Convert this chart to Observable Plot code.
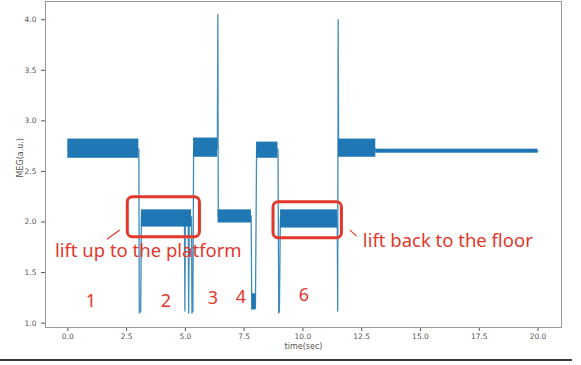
<!DOCTYPE html>
<html>
<head>
<meta charset="utf-8">
<script src="https://cdn.jsdelivr.net/npm/d3@7"></script>
<script src="https://cdn.jsdelivr.net/npm/@observablehq/plot@0.6"></script>
<style>
  html, body { margin: 0; padding: 0; background: #fff; }
  #wrap { position: relative; width: 581px; height: 365px; overflow: hidden; }
  #edge { position: absolute; left: 0; top: 359px; width: 572px; height: 2px; background: #3a3a3a; }
</style>
</head>
<body>
<div id="wrap"><div id="edge"></div></div>
<script>
// ---- signal trace (time in sec, MEG in a.u.) ----
const traceT = [0, 3.02, 3.04, 3.10, 3.13, 4.96, 4.98, 5.00, 5.12, 5.14, 5.17, 5.26, 5.28, 5.32, 5.35,
                6.36, 6.38, 6.40, 7.80, 7.82, 7.92, 7.98, 8.03, 8.94, 8.97, 9.00, 9.04,
                11.46, 11.48, 11.50, 11.52, 13.10, 13.12, 20.0];
const traceV = [2.72, 2.72, 1.10, 1.12, 2.05, 2.05, 1.12, 2.05, 2.05, 1.10, 2.05, 2.05, 1.10, 1.12, 2.72,
                2.72, 4.05, 2.06, 2.06, 1.28, 1.20, 1.15, 2.72, 2.72, 1.10, 1.12, 2.04,
                2.04, 1.12, 4.00, 2.72, 2.72, 2.70, 2.70];

// ---- noisy plateau envelopes ----
const bandStart = [0.00, 3.13, 5.35, 6.39, 7.82, 8.03, 9.05, 11.51, 13.10];
const bandEnd   = [3.02, 5.26, 6.37, 7.81, 8.00, 8.94, 11.47, 13.10, 20.00];
const bandLow   = [2.63, 1.95, 2.64, 1.99, 1.13, 2.63, 1.94, 2.64, 2.68];
const bandHigh  = [2.82, 2.12, 2.83, 2.12, 1.29, 2.79, 2.12, 2.82, 2.72];

// ---- annotations ----
const boxX1 = [2.55, 8.75];
const boxX2 = [5.62, 11.66];
const boxY1 = [1.85, 1.84];
const boxY2 = [2.245, 2.195];

const noteText = ["lift up to the platform", "lift back to the floor"];
const noteT = [-0.55, 12.55];
const noteV = [1.71, 1.81];

const pointerT1 = [1.66, 12.0];
const pointerV1 = [1.83, 1.92];
const pointerT2 = [2.21, 12.28];
const pointerV2 = [1.92, 1.86];

const stageText = ["1", "2", "3", "4", "6"];
const stageT = [0.98, 4.17, 6.17, 7.36, 10.04];
const stageV = [1.215, 1.215, 1.245, 1.255, 1.275];

const xTicks = [0, 2.5, 5, 7.5, 10, 12.5, 15, 17.5, 20];
const yTicks = [1.0, 1.5, 2.0, 2.5, 3.0, 3.5, 4.0];
const xLabel = "time(sec)";
const yLabel = "MEG(a.u.)";

// ---- build tables ----
const trace = traceT.map((t, i) => ({t, v: traceV[i]}));
const bands = bandStart.map((s, i) => ({s, e: bandEnd[i], lo: bandLow[i], hi: bandHigh[i]}));
const boxes = boxX1.map((x1, i) => ({x1, x2: boxX2[i], y1: boxY1[i], y2: boxY2[i]}));
const notes = noteText.map((text, i) => ({text, t: noteT[i], v: noteV[i]}));
const pointers = pointerT1.map((t1, i) => ({t1, v1: pointerV1[i], t2: pointerT2[i], v2: pointerV2[i]}));
const stages = stageText.map((text, i) => ({text, t: stageT[i], v: stageV[i]}));

const blue = "#1f77b4";
const red = "#e2382c";

const chart = Plot.plot({
  width: 581,
  height: 365,
  marginLeft: 45,
  marginRight: 20,
  marginTop: 1,
  marginBottom: 38,
  style: {fontFamily: "DejaVu Sans", fontSize: "7.5px", color: "#555", background: "transparent"},
  x: {domain: [-0.95, 21.0], ticks: xTicks, tickFormat: d3.format(".1f"), tickSize: 4, tickPadding: 2, label: null},
  y: {domain: [0.957, 4.18], ticks: yTicks, tickFormat: d3.format(".1f"), tickSize: 4, tickPadding: 5, label: null},
  marks: [
    Plot.rect(bands, {x1: "s", x2: "e", y1: "lo", y2: "hi", fill: blue}),
    Plot.line(trace, {x: "t", y: "v", stroke: blue, strokeWidth: 1.3, strokeOpacity: 0.85}),
    Plot.rect(boxes, {x1: "x1", x2: "x2", y1: "y1", y2: "y2", fill: "none", stroke: red, strokeWidth: 3, rx: 5}),
    Plot.link(pointers, {x1: "t1", y1: "v1", x2: "t2", y2: "v2", stroke: red, strokeWidth: 1.2}),
    Plot.text(notes, {x: "t", y: "v", text: "text", textAnchor: "start", fill: red, fontSize: 18.5, fontFamily: "Noto Sans"}),
    Plot.text(stages, {x: "t", y: "v", text: "text", fill: red, fontSize: 18, fontFamily: "Noto Sans"}),
    Plot.frame({stroke: "#999", strokeWidth: 1}),
    Plot.text([xLabel], {frameAnchor: "bottom", dy: 21, text: d => d, fill: "#555", fontSize: 8}),
    Plot.text([yLabel], {frameAnchor: "left", dx: -25, dy: 13, rotate: -90, text: d => d, fill: "#555", fontSize: 8})
  ]
});
document.getElementById("wrap").appendChild(chart);
</script>
</body>
</html>
